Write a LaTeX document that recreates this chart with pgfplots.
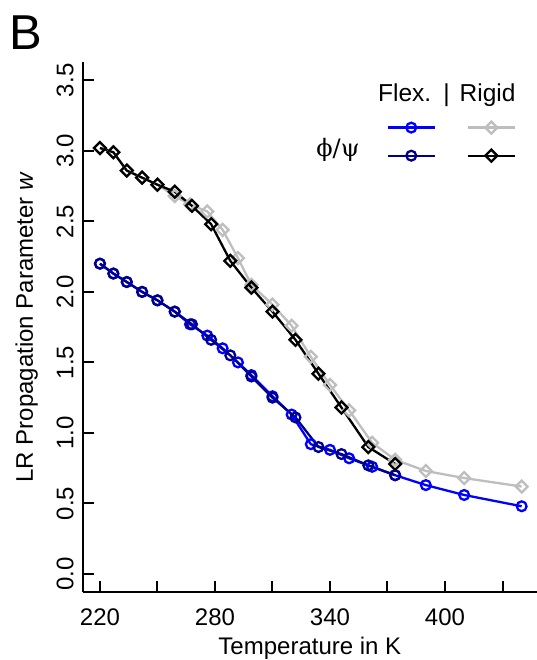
\documentclass[border=0pt]{standalone}
\usepackage{fontspec}
\setmainfont{Liberation Sans}
\newfontfamily\greekserif{DejaVu Serif}
\usepackage{pgfplots}
\pgfplotsset{compat=1.18}
\usetikzlibrary{calc}
\definecolor{flexlight}{HTML}{0000FF}
\definecolor{flexdark}{HTML}{00008B}
\definecolor{rigidlight}{HTML}{BEBEBE}
\begin{document}
\begin{tikzpicture}
\begin{axis}[
  scale only axis,
  width=454.3pt, height=530.3pt,
  xmin=211, xmax=448, ymin=-0.13, ymax=3.63,
  axis lines=left,
  axis line style={-, line width=2pt},
  every tick/.style={black, line width=2pt},
  tick align=inside,
  major tick length=11pt,
  xtick={220,250,280,310,340,370,400,430},
  xticklabels={220,,280,,340,,400,},
  ytick={0,0.5,1,1.5,2,2.5,3,3.5},
  font=\fontsize{24}{28}\selectfont,
  ticklabel style={font=\fontsize{24}{28}\selectfont},
  /pgf/number format/assume math mode=true,
  yticklabel style={rotate=90, anchor=base, inner sep=0pt, yshift=9.2pt,
    /pgf/number format/fixed, /pgf/number format/fixed zerofill, /pgf/number format/precision=1},
  xticklabel style={anchor=base, inner sep=0pt, yshift=-32.7pt},
  xlabel={Temperature in K},
  xlabel style={at={(rel axis cs:0.5,0)}, anchor=base, inner sep=0pt, yshift=-61.7pt},
  ylabel={LR Propagation Parameter \textit{w}},
  ylabel style={at={(rel axis cs:0,0.5)}, anchor=base, inner sep=0pt, yshift=49.7pt},
  clip=false,
  legend columns=2,
  legend image code/.code={\draw[mark repeat=2,mark phase=2] plot coordinates {(0pt,0pt) (23.75pt,0pt) (47.5pt,0pt)};},
  legend style={draw=none, fill=none, at={(rel axis cs:0.8125,0.8498)}, anchor=center,
    nodes={inner sep=0pt, outer sep=0pt},
    /tikz/every even column/.append style={column sep=29.3pt},
    row sep=16.2pt},
]
\coordinate (ll) at (rel axis cs:0,0);
% Flex. phi/psi (light)
\addplot[color=flexlight, line width=2.3pt, mark=o, mark size=4.9pt] coordinates {
(220,2.20) (227,2.13) (234,2.07) (242,2.00) (250,1.94) (259,1.86) (267,1.77) (276,1.69)
(284,1.60) (292,1.50) (299,1.41) (310,1.26) (320,1.13) (330,0.92) (340,0.88) (350,0.82)
(362,0.76) (374,0.70) (390,0.63) (410,0.56) (440,0.48)};
\addlegendentry{\mbox{}}
% Rigid (light)
\addplot[color=rigidlight, line width=2.3pt, mark=square, mark size=4.2pt, mark options={rotate=45}] coordinates {
(220,3.02) (227,2.99) (234,2.86) (242,2.81) (250,2.76) (259,2.68) (267,2.62) (276,2.57)
(284,2.44) (292,2.24) (299,2.05) (310,1.91) (320,1.76) (330,1.54) (340,1.34) (350,1.16)
(362,0.93) (374,0.81) (390,0.73) (410,0.68) (440,0.62)};
\addlegendentry{\mbox{}}
% Flex. (dark)
\addplot[color=flexdark, line width=2.3pt, mark=o, mark size=4.9pt] coordinates {
(220,2.20) (227,2.13) (234,2.07) (242,2.00) (250,1.94) (259,1.86) (268,1.77) (278,1.66)
(288,1.55) (299,1.40) (310,1.25) (322,1.11) (334,0.90) (346,0.85) (360,0.77) (374,0.70)};
\addlegendentry{\mbox{}}
% Rigid (dark)
\addplot[color=black, line width=2.3pt, mark=square, mark size=4.2pt, mark options={rotate=45}] coordinates {
(220,3.02) (227,2.99) (234,2.86) (242,2.81) (250,2.76) (259,2.71) (268,2.61) (278,2.48)
(288,2.22) (299,2.03) (310,1.86) (322,1.66) (334,1.42) (346,1.18) (360,0.90) (374,0.78)};
\addlegendentry{\mbox{}}
\end{axis}
\node[anchor=base west, inner sep=0pt, font=\fontsize{49}{55}\selectfont] at ($(ll)+(-73.2pt,542.3pt)$) {B};
\node[anchor=base west, inner sep=0pt, font=\fontsize{24.5}{28}\selectfont] at ($(ll)+(295.3pt,490.6pt)$) {Flex.\hspace{12pt}|\hspace{10pt}Rigid};
\node[anchor=center, inner sep=0pt, font=\fontsize{24}{28}\greekserif] at ($(ll)+(255.3pt,442.3pt)$) {ϕ/ψ};
\pgfresetboundingbox
\path[use as bounding box] ($(ll)+(-82.7pt,-67.7pt)$) rectangle ($(ll)+(454.3pt,592.3pt)$);
\end{tikzpicture}
\end{document}
